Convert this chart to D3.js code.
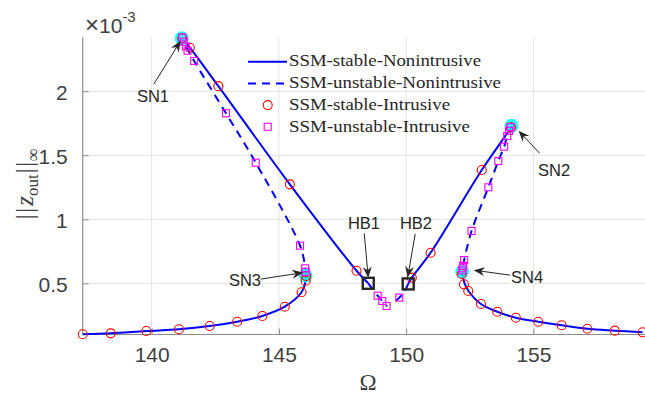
<!DOCTYPE html>
<html><head><meta charset="utf-8">
<script src="https://cdn.jsdelivr.net/npm/d3@7"></script>
<style>html,body{margin:0;padding:0;background:#fff;}svg{display:block;}</style>
</head><body>
<svg id="chart" width="645" height="398"></svg>
<script>
// ---------- data (Omega, ||z_out||_inf x 1e-3) ----------
const omegaTicks = [140, 145, 150, 155];
const ampTicks = [0.5, 1, 1.5, 2];
const ampTickLabels = ["0.5", "1", "1.5", "2"];

// Nonintrusive SSM branches (lines)
const stableLowLeft = [[137.29,0.102],[138.39,0.109],[139.79,0.127],[141.07,0.141],[142.28,0.166],[143.36,0.2],[144.35,0.245],[145.23,0.317],[145.89,0.43],[146.03,0.5],[146.06,0.56]];
const unstableLeft = [[146.06,0.56],[146.02,0.64],[145.83,0.794],[144.09,1.442],[142.92,1.828],[141.67,2.237],[141.26,2.387],[141.18,2.414]];
const stableUpperLeft = [[141.18,2.414],[141.5,2.34],[142.62,2.04],[145.43,1.273],[148.05,0.598],[148.51,0.5]];
const unstableMidA = [[148.51,0.5],[148.88,0.403],[149.06,0.362],[149.25,0.32]];
const unstableMidB = [[149.6,0.364],[149.73,0.388],[149.92,0.43],[150.08,0.495]];
const stableUpperRight = [[150.08,0.495],[150.22,0.544],[150.96,0.739],[152.97,1.385],[154.12,1.719],[154.14,1.731]];
const unstableRight = [[154.14,1.731],[154.08,1.71],[153.97,1.65],[153.85,1.567],[153.62,1.455],[153.23,1.25],[152.57,0.909],[152.28,0.682],[152.2,0.591]];
const stableLowRight = [[152.2,0.591],[152.24,0.539],[152.31,0.492],[152.44,0.442],[152.94,0.338],[153.58,0.278],[154.31,0.231],[155.19,0.2],[156.11,0.172],[157.12,0.145],[158.2,0.13],[159.29,0.117]];

// Intrusive SSM points
const stableIntrusive = [[137.29,0.102],[138.39,0.109],[139.79,0.127],[141.07,0.141],[142.28,0.166],[143.36,0.2],[144.35,0.245],[145.23,0.317],[145.89,0.43],[146.05,0.52],[146.07,0.557],
  [141.2,2.414],[141.5,2.34],[142.62,2.04],[145.43,1.273],[148.05,0.598],
  [150.22,0.544],[150.96,0.739],[152.97,1.385],[154.12,1.719],
  [152.18,0.573],[152.27,0.492],[152.44,0.44],[152.94,0.338],[153.58,0.278],[154.31,0.231],[155.19,0.2],[156.11,0.172],[157.12,0.145],[158.2,0.13],[159.29,0.117]];
const unstableIntrusive = [[141.2,2.42],[141.26,2.387],[141.34,2.35],[141.41,2.317],[141.67,2.237],[142.92,1.828],[144.09,1.442],[145.83,0.794],[146.03,0.617],[146.05,0.59],
  [148.88,0.403],[149.06,0.362],[149.23,0.323],[149.73,0.388],
  [154.1,1.72],[154.04,1.69],[153.97,1.65],[153.85,1.567],[153.62,1.455],[153.23,1.25],[152.57,0.909],[152.28,0.682],[152.24,0.638],[152.22,0.617],[152.2,0.6]];

// Bifurcation points
const snLabels = ["SN1","SN2","SN3","SN4"];
const snPoints = [[141.18,2.414],[154.14,1.731],[146.05,0.56],[152.2,0.591]];
const hbLabels = ["HB1","HB2"];
const hbPoints = [[148.51,0.5],[150.08,0.495]];

const legendLabels = ["SSM-stable-Nonintrusive","SSM-unstable-Nonintrusive","SSM-stable-Intrusive","SSM-unstable-Intrusive"];

// ---------- layout ----------
const svg = d3.select("#chart");
svg.append("rect").attr("width",645).attr("height",398).attr("fill","#fff");
const x = d3.scaleLinear().domain([137.29, 159.29]).range([82.7, 642.6]);
const y = d3.scaleLinear().domain([0.1, 2.42]).range([334.5, 37.5]);
const X0 = x.range()[0], X1 = 645, Y0 = y.range()[0], Y1 = y.range()[1];

const txt = "#404040";
const sans = "'Liberation Sans', Arial, sans-serif";
const serif = "'Liberation Serif', 'Times New Roman', serif";

// grid
const g = svg.append("g");
g.selectAll(".gx").data(omegaTicks).join("line")
  .attr("x1",d=>x(d)).attr("x2",d=>x(d)).attr("y1",Y0).attr("y2",Y1)
  .attr("stroke","#e3e3e3").attr("stroke-width",1);
g.selectAll(".gy").data(ampTicks).join("line")
  .attr("x1",X0).attr("x2",X1).attr("y1",d=>y(d)).attr("y2",d=>y(d))
  .attr("stroke","#e3e3e3").attr("stroke-width",1);

// axes
const xAxis = d3.axisBottom(x).tickValues(omegaTicks).tickSizeInner(-6).tickSizeOuter(0).tickPadding(13).tickFormat(d3.format("d"));
const yAxis = d3.axisLeft(y).tickValues(ampTicks).tickSizeInner(-6).tickSizeOuter(0).tickPadding(15).tickFormat((d,i)=>ampTickLabels[i]);
const gx = svg.append("g").attr("transform",`translate(0,${Y0})`).call(xAxis);
const gy = svg.append("g").attr("transform",`translate(${X0},0)`).call(yAxis);
[gx,gy].forEach(a=>{
  a.select(".domain").attr("stroke","#8c8c8c").attr("stroke-width",1.2);
  a.selectAll(".tick line").attr("stroke","#8c8c8c").attr("stroke-width",1);
  a.selectAll(".tick text").attr("fill",txt).attr("font-family",sans).attr("font-size",21);
});
gx.select(".domain").attr("d",`M${X0},0H${X1}`);
gy.select(".domain").attr("d",`M0,${Y0}V${Y1}`);
gy.selectAll(".tick text").attr("dy","0.4em");

// exponent
const ex = svg.append("text").attr("x",85).attr("y",32.5).attr("fill",txt).attr("font-family",sans).attr("font-size",21);
ex.append("tspan").attr("font-size",24).text("\u00d7");
ex.append("tspan").text("10");
ex.append("tspan").attr("font-size",15).attr("dy",-11).text("-3");

// axis labels
svg.append("text").attr("x",368).attr("y",390).attr("text-anchor","middle")
  .attr("fill",txt).attr("font-family",serif).attr("font-size",23).text("\u03a9");
const yl = svg.append("text").attr("transform","translate(33,184) rotate(-90)").attr("text-anchor","middle")
  .attr("fill",txt).attr("font-family",serif).attr("font-size",25);
yl.append("tspan").text("|");
yl.append("tspan").attr("dx",1.5).text("|");
yl.append("tspan").attr("font-style","italic").attr("dx",2).text("z");
yl.append("tspan").attr("font-size",17).attr("dy",5).text("out");
yl.append("tspan").attr("dy",-5).attr("dx",1).text("|");
yl.append("tspan").attr("dx",1.5).text("|");
yl.append("tspan").attr("font-size",18).attr("dy",6).text("\u221e");

// lines
const line = d3.line().x(d=>x(d[0])).y(d=>y(d[1])).curve(d3.curveCatmullRom.alpha(0.5));
const blue = "#0000ff";
[stableLowLeft, stableUpperLeft, stableUpperRight, stableLowRight].forEach(s=>{
  svg.append("path").datum(s).attr("d",line).attr("fill","none").attr("stroke",blue).attr("stroke-width",2);
});
[unstableLeft, unstableMidA, unstableMidB, unstableRight].forEach(s=>{
  svg.append("path").datum(s).attr("d",line).attr("fill","none").attr("stroke",blue).attr("stroke-width",2).attr("stroke-dasharray","8,6");
});

// SN cyan markers
svg.selectAll(".sn").data(snPoints).join("circle")
  .attr("cx",d=>x(d[0])).attr("cy",d=>y(d[1])).attr("r",7).attr("fill","#00ffff").attr("opacity",0.85);

// intrusive markers
svg.selectAll(".ci").data(stableIntrusive).join("circle")
  .attr("cx",d=>x(d[0])).attr("cy",d=>y(d[1])).attr("r",4.5)
  .attr("fill","none").attr("stroke","#ff0000").attr("stroke-width",1.1);
svg.selectAll(".sq").data(unstableIntrusive).join("rect")
  .attr("x",d=>x(d[0])-3.5).attr("y",d=>y(d[1])-3.5).attr("width",7).attr("height",7)
  .attr("fill","none").attr("stroke","#ff00ff").attr("stroke-width",1.1);

// HB markers
svg.selectAll(".hb").data(hbPoints).join("rect")
  .attr("x",d=>x(d[0])-5.5).attr("y",d=>y(d[1])-5.5).attr("width",11).attr("height",11)
  .attr("fill","none").attr("stroke","#262626").attr("stroke-width",2.4);

// annotations: arrow tail offset / tip offset relative to marker (px), label placement
const annLayout = {
  SN1:{tail:[-28,46], tip:[-1,2.5], tx:153, ty:102, anchor:"middle"},
  SN2:{tail:[28,27.5], tip:[7,5], tx:538, ty:176, anchor:"start"},
  SN3:{tail:[-45,3.5], tip:[-2.5,-3], tx:261, ty:286, anchor:"end"},
  SN4:{tail:[48,3.5], tip:[11.5,-1.5], tx:511, ty:283, anchor:"start"},
  HB1:{tail:[-4,-50], tip:[0,-5.5], tx:364, ty:229, anchor:"middle"},
  HB2:{tail:[7,-50], tip:[-0.5,-6.5], tx:416, ty:229, anchor:"middle"}
};
const annColor = "#262626";
function arrow(x1,y1,x2,y2){
  const ang = Math.atan2(y2-y1,x2-x1), L=11, W=4.5, N=7.5;
  const ux=Math.cos(ang), uy=Math.sin(ang), px=-uy, py=ux;
  const bx=x2-ux*L, by=y2-uy*L, nx=x2-ux*N, ny=y2-uy*N;
  svg.append("line").attr("x1",x1).attr("y1",y1).attr("x2",nx).attr("y2",ny).attr("stroke",annColor).attr("stroke-width",1);
  svg.append("path").attr("d",`M${x2},${y2}L${bx+px*W},${by+py*W}L${nx},${ny}L${bx-px*W},${by-py*W}Z`).attr("fill",annColor);
}
const allAnn = snLabels.map((l,i)=>[l,snPoints[i]]).concat(hbLabels.map((l,i)=>[l,hbPoints[i]]));
allAnn.forEach(([lab,p])=>{
  const a = annLayout[lab], cx=x(p[0]), cy=y(p[1]);
  arrow(cx+a.tail[0], cy+a.tail[1], cx+a.tip[0], cy+a.tip[1]);
  svg.append("text").attr("x",a.tx).attr("y",a.ty).attr("text-anchor",a.anchor)
    .attr("fill",annColor).attr("font-family",sans).attr("font-size",16.5).text(lab);
});

// legend
const lg = svg.append("g");
const legW = [192,212,161,181];
legendLabels.forEach((lab,i)=>{
  const cy = 61.7 + i*21.7;
  if(i<2){
    lg.append("line").attr("x1",248).attr("x2",287).attr("y1",cy).attr("y2",cy)
      .attr("stroke",blue).attr("stroke-width",2).attr("stroke-dasharray",i===1?"8,6":null);
  } else if(i===2){
    lg.append("circle").attr("cx",267.7).attr("cy",cy).attr("r",4.5).attr("fill","none").attr("stroke","#ff0000").attr("stroke-width",1.1);
  } else {
    lg.append("rect").attr("x",264.2).attr("y",cy-3.5).attr("width",7).attr("height",7).attr("fill","none").attr("stroke","#ff00ff").attr("stroke-width",1.1);
  }
  lg.append("text").attr("x",289).attr("y",cy+4.7).attr("fill",annColor)
    .attr("font-family",serif).attr("font-size",17).attr("textLength",legW[i]).attr("lengthAdjust","spacingAndGlyphs").text(lab);
});
</script>
</body></html>
